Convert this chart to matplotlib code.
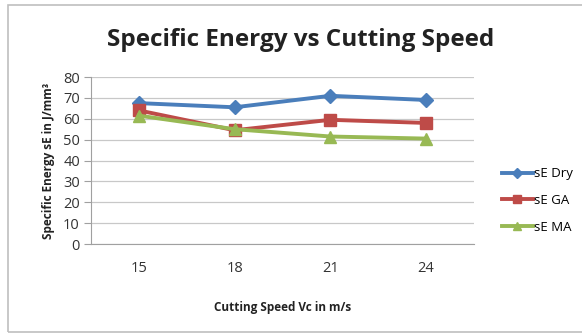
import matplotlib.pyplot as plt
from matplotlib.patches import Rectangle

speeds = ['15', '18', '21', '24']
se_dry = [67.5, 65.5, 71, 69]
se_ga = [64, 54.5, 59.5, 58]
se_ma = [61.5, 55, 51.5, 50.5]

plt.rcParams['font.family'] = ['Open Sans', 'DejaVu Sans']

fig = plt.figure(figsize=(5.82, 3.35), dpi=100)
fig.patches.append(Rectangle((0.014, 0.008), 0.99, 0.978, transform=fig.transFigure,
                             fill=False, edgecolor='#bfbfbf', linewidth=1.2))

ax = fig.add_axes([0.1564, 0.2716, 0.658, 0.4985])
x = range(len(speeds))
ax.plot(x, se_dry, color='#4a7ebb', marker='D', markersize=7, linewidth=2.8, label='sE Dry')
ax.plot(x, se_ga, color='#be4b48', marker='s', markersize=8, linewidth=2.8, label='sE GA')
ax.plot(x, se_ma, color='#98b954', marker='^', markersize=8, linewidth=2.8, label='sE MA')

ax.set_xlim(-0.5, len(speeds) - 0.5)
ax.set_ylim(0, 80)
ax.set_yticks(range(0, 81, 10))
ax.set_xticks(list(x))
ax.set_xticklabels(speeds)
ax.yaxis.grid(True, color='#c8c8c8', linewidth=0.9)
ax.set_axisbelow(True)
for s in ['top', 'right']:
    ax.spines[s].set_visible(False)
ax.spines['left'].set_color('#a0a0a0')
ax.spines['bottom'].set_color('#a0a0a0')
ax.tick_params(axis='y', length=5, color='#a0a0a0', labelsize=10.5, labelcolor='#333333', pad=3)
ax.tick_params(axis='x', length=0, labelsize=10.5, labelcolor='#333333', pad=12)

# title is centred on the whole chart area, not on the plot box
fig.text(0.516, 0.88, 'Specific Energy vs Cutting Speed', fontsize=17.5, fontweight='bold',
         color='#222222', ha='center', va='center')
ax.set_xlabel('Cutting Speed Vc in m/s', fontsize=8.5, fontweight='bold', color='#222222', labelpad=18)
ax.set_ylabel('Specific Energy sE in J/mm³', fontsize=8.5, fontweight='bold', color='#222222', labelpad=6)

ax.legend(loc='center left', bbox_to_anchor=(1.06, 0.26), frameon=False, fontsize=9.5,
          handlelength=2.3, labelspacing=1.05, handletextpad=0.1, borderaxespad=0,
          markerscale=0.75)

fig.savefig('out.png', dpi=100)
